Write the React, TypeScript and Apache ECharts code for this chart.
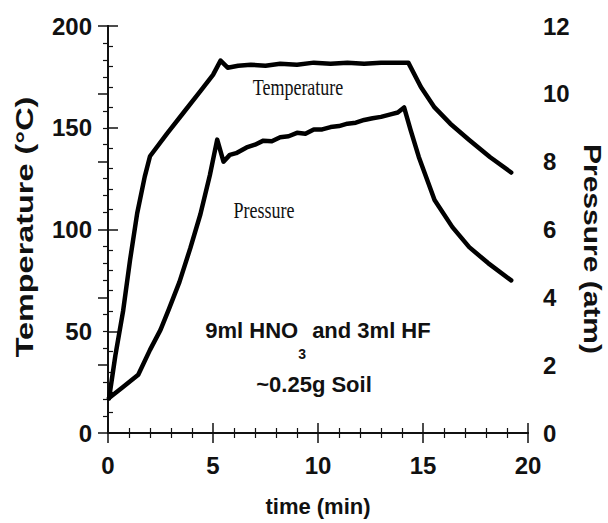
import React, { useEffect, useRef } from "react";
import * as echarts from "echarts";

// time (min) and temperature (°C)
const tempTime = [0.05, 0.35, 0.72, 1.05, 1.39, 1.75, 2.0, 2.8, 3.6, 4.4, 5.0, 5.36, 5.7, 6.2, 6.8, 7.5, 8.2, 9.0, 9.8, 10.6, 11.4, 12.2, 13.0, 13.7, 14.3, 14.9, 15.55, 16.3, 17.2, 18.2, 19.2];
const tempValue = [17, 38, 60, 85, 108, 126, 136, 147, 157.5, 168, 176, 183, 179.5, 180.5, 181, 180.5, 181.5, 181, 182, 181.5, 182, 181.5, 182, 182, 182, 170, 160, 152, 144, 135.5, 128];

// time (min) and pressure (atm)
const pressTime = [0.05, 0.7, 1.44, 2.0, 2.5, 2.9, 3.4, 3.92, 4.4, 4.85, 5.2, 5.5, 5.8, 6.1, 6.6, 7.0, 7.4, 7.8, 8.2, 8.6, 9.0, 9.4, 9.8, 10.2, 10.6, 11.0, 11.4, 11.8, 12.2, 12.6, 13.0, 13.5, 13.8, 14.1, 14.4, 14.8, 15.55, 16.4, 17.2, 18.1, 19.2];
const pressValue = [1.03, 1.35, 1.72, 2.45, 3.04, 3.65, 4.45, 5.45, 6.45, 7.6, 8.65, 8.0, 8.2, 8.25, 8.42, 8.5, 8.62, 8.6, 8.72, 8.75, 8.85, 8.82, 8.95, 8.95, 9.02, 9.05, 9.12, 9.15, 9.23, 9.28, 9.32, 9.4, 9.45, 9.6, 8.95, 8.14, 6.87, 6.07, 5.48, 5.01, 4.5];

const xRange = [0, 20, 5];
const tempRange = [0, 200, 50];
const pressRange = [0, 12, 2];

const FONT = "'Liberation Sans', Arial, Helvetica, sans-serif";
const SERIF = "'Liberation Serif', 'Times New Roman', serif";

export default function App() {
  const ref = useRef<HTMLDivElement>(null);
  useEffect(() => {
    if (!ref.current) return;
    const chart = echarts.init(ref.current, undefined, { renderer: "svg" });
    const tempData = tempTime.map((t, i) => [t, tempValue[i]]);
    const pressData = pressTime.map((t, i) => [t, pressValue[i]]);
    const axisLine = { show: true, lineStyle: { color: "#111", width: 2 } };
    const tick = { show: true, inside: true, length: 10, lineStyle: { color: "#111", width: 1.5 } };
    const minor = (n: number) => ({ show: true, splitNumber: n, length: 5, lineStyle: { color: "#111", width: 1.2 } });
    const label = { color: "#111", fontSize: 24, fontWeight: "bold", fontFamily: FONT };
    const txt = (text: string, x: number, y: number, extra: any = {}, style: any = {}) => ({
      type: "text",
      x,
      y,
      ...extra,
      style: {
        text,
        fill: "#111",
        align: "center",
        verticalAlign: "middle",
        textAlign: "center",
        textVerticalAlign: "middle",
        ...style,
      },
    });
    chart.setOption({
      animation: false,
      backgroundColor: "#fff",
      grid: { left: 108, right: 80, top: 26, bottom: 90, containLabel: false },
      xAxis: [
        {
          type: "value",
          min: xRange[0],
          max: xRange[1],
          interval: xRange[2],
          position: "bottom",
          axisLine,
          axisTick: tick,
          minorTick: minor(5),
          splitLine: { show: false },
          axisLabel: { ...label, margin: 20 },
          name: "time (min)",
          nameLocation: "middle",
          nameGap: 62,
          nameTextStyle: { color: "#111", fontSize: 22, fontWeight: "bold", fontFamily: FONT },
        },
        {
          type: "value",
          min: xRange[0],
          max: xRange[1],
          interval: xRange[2],
          position: "top",
          axisLine,
          axisTick: tick,
          minorTick: minor(5),
          splitLine: { show: false },
          axisLabel: { show: false },
        },
      ],
      yAxis: [
        {
          type: "value",
          min: tempRange[0],
          max: tempRange[1],
          interval: tempRange[2],
          position: "left",
          axisLine,
          axisTick: tick,
          minorTick: minor(5),
          splitLine: { show: false },
          axisLabel: { ...label, margin: 16 },
        },
        {
          type: "value",
          min: pressRange[0],
          max: pressRange[1],
          interval: pressRange[2],
          position: "right",
          axisLine,
          axisTick: tick,
          minorTick: minor(4),
          splitLine: { show: false },
          axisLabel: { ...label, margin: 15 },
        },
      ],
      series: [
        {
          name: "Temperature",
          type: "line",
          xAxisIndex: 0,
          yAxisIndex: 0,
          data: tempData,
          showSymbol: false,
          lineStyle: { color: "#000", width: 4.5, cap: "round", join: "round" },
        },
        {
          name: "Pressure",
          type: "line",
          xAxisIndex: 0,
          yAxisIndex: 1,
          data: pressData,
          showSymbol: false,
          lineStyle: { color: "#000", width: 4.5, cap: "round", join: "round" },
        },
      ],
      graphic: [
        txt("Temperature (°C)", 25, 227, { rotation: Math.PI / 2, scaleX: 1.35 }, { fontSize: 24, fontWeight: "bold", fontFamily: FONT }),
        txt("Pressure (atm)", 592, 249, { rotation: -Math.PI / 2, scaleX: 1.25 }, { fontSize: 24, fontWeight: "bold", fontFamily: FONT }),
        txt("Temperature", 298, 87, { scaleY: 1.25 }, { fontSize: 18, fontFamily: SERIF }),
        txt("Pressure", 264, 210, { scaleY: 1.25 }, { fontSize: 18, fontFamily: SERIF }),
        txt("{a|9ml HNO}{s|3}{a| and 3ml HF}", 318, 330, {}, {
          fontSize: 22,
          fontWeight: "bold",
          fontFamily: FONT,
          rich: {
            a: { fontSize: 22, fontWeight: "bold", fontFamily: FONT, fill: "#111", color: "#111" },
            s: { fontSize: 14, fontWeight: "bold", fontFamily: FONT, fill: "#111", color: "#111", padding: [48, 0, 0, 0] },
          },
        }),
        txt("~0.25g Soil", 314, 384, {}, { fontSize: 22, fontWeight: "bold", fontFamily: FONT }),
      ],
    });
    return () => chart.dispose();
  }, []);
  return <div ref={ref} style={{ position: "absolute", left: 0, top: 0, width: 608, height: 523 }} />;
}
